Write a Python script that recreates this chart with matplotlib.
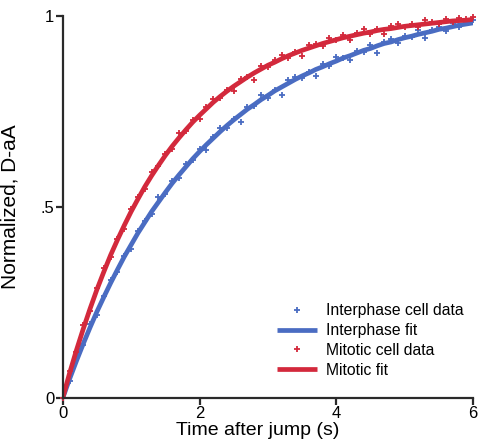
import matplotlib

matplotlib.use("Agg")
import matplotlib.pyplot as plt
import numpy as np

# sampling times (s)
time_s = [0.0, 0.1, 0.2, 0.3, 0.4, 0.5, 0.6, 0.7, 0.8, 0.9,
          1.0, 1.1, 1.2, 1.3, 1.4, 1.5, 1.6, 1.7, 1.8, 1.9,
          2.0, 2.1, 2.2, 2.3, 2.4, 2.5, 2.6, 2.7, 2.8, 2.9,
          3.0, 3.1, 3.2, 3.3, 3.4, 3.5, 3.6, 3.7, 3.8, 3.9,
          4.0, 4.1, 4.2, 4.3, 4.4, 4.5, 4.6, 4.7, 4.8, 4.9,
          5.0, 5.1, 5.2, 5.3, 5.4, 5.5, 5.6, 5.7, 5.8, 5.9, 6.0]

interphase_data = [0.000, 0.045, 0.104, 0.139, 0.195, 0.218, 0.268, 0.310, 0.330, 0.372,
                   0.390, 0.438, 0.463, 0.481, 0.525, 0.534, 0.567, 0.575, 0.613, 0.624,
                   0.651, 0.650, 0.684, 0.707, 0.707, 0.731, 0.722, 0.763, 0.764, 0.792,
                   0.784, 0.806, 0.792, 0.833, 0.839, 0.837, 0.854, 0.843, 0.875, 0.870,
                   0.892, 0.891, 0.884, 0.909, 0.907, 0.924, 0.903, 0.932, 0.939, 0.930,
                   0.948, 0.945, 0.963, 0.942, 0.963, 0.971, 0.961, 0.981, 0.972, 0.984, 0.990]

interphase_fit = [0.000, 0.050, 0.097, 0.142, 0.185, 0.226, 0.264, 0.301, 0.336, 0.370,
                  0.401, 0.432, 0.460, 0.488, 0.513, 0.538, 0.562, 0.584, 0.605, 0.626,
                  0.645, 0.663, 0.680, 0.697, 0.713, 0.728, 0.742, 0.756, 0.768, 0.781,
                  0.792, 0.804, 0.814, 0.824, 0.834, 0.843, 0.851, 0.860, 0.867, 0.875,
                  0.882, 0.890, 0.896, 0.903, 0.910, 0.915, 0.922, 0.928, 0.932, 0.938,
                  0.943, 0.947, 0.952, 0.956, 0.960, 0.965, 0.968, 0.972, 0.976, 0.979, 0.982]

mitotic_data = [0.000, 0.071, 0.121, 0.190, 0.227, 0.287, 0.341, 0.369, 0.416, 0.443,
                0.495, 0.525, 0.547, 0.592, 0.606, 0.640, 0.651, 0.693, 0.700, 0.728,
                0.730, 0.761, 0.782, 0.784, 0.806, 0.804, 0.835, 0.841, 0.833, 0.870,
                0.867, 0.885, 0.899, 0.889, 0.905, 0.895, 0.924, 0.926, 0.922, 0.943,
                0.936, 0.950, 0.938, 0.956, 0.967, 0.954, 0.965, 0.954, 0.973, 0.979,
                0.970, 0.979, 0.970, 0.989, 0.983, 0.978, 0.993, 0.985, 0.994, 0.993, 0.998]

mitotic_fit = [0.000, 0.065, 0.125, 0.181, 0.234, 0.284, 0.330, 0.374, 0.414, 0.452,
               0.488, 0.521, 0.553, 0.582, 0.609, 0.635, 0.659, 0.681, 0.702, 0.722,
               0.740, 0.757, 0.774, 0.789, 0.803, 0.816, 0.828, 0.840, 0.851, 0.861,
               0.871, 0.879, 0.888, 0.896, 0.903, 0.910, 0.916, 0.922, 0.928, 0.933,
               0.938, 0.943, 0.947, 0.951, 0.955, 0.958, 0.962, 0.965, 0.967, 0.970,
               0.973, 0.975, 0.977, 0.979, 0.981, 0.983, 0.985, 0.987, 0.988, 0.989, 0.991]

x_ticks = [0, 2, 4, 6]
y_ticks = [0, 0.5, 1]
y_tick_labels = ["0", ".5", "1"]

blue = "#4a6cc2"
red = "#d3293c"
axis_color = "#2a2a2a"

plt.rcParams["font.family"] = ["Liberation Sans", "DejaVu Sans"]

fig = plt.figure(figsize=(4.79, 4.44), dpi=100)
ax = fig.add_axes([0.131, 0.1036, 0.8566, 0.8604])

ax.plot(time_s, interphase_data, linestyle="none", marker="+", markersize=5,
        markeredgewidth=1.3, color=blue, clip_on=False, label="Interphase cell data")
ax.plot(time_s, interphase_fit, linewidth=3.4, color=blue, solid_capstyle="butt",
        label="Interphase fit")
ax.plot(time_s, mitotic_data, linestyle="none", marker="+", markersize=5,
        markeredgewidth=1.3, color=red, clip_on=False, label="Mitotic cell data")
ax.plot(time_s, mitotic_fit, linewidth=3.4, color=red, solid_capstyle="butt",
        label="Mitotic fit")

ax.set_xlim(0, 6)
ax.set_ylim(0, 1)
ax.set_xticks(x_ticks)
ax.set_yticks(y_ticks)
ax.set_yticklabels(y_tick_labels)
ax.set_xlabel("Time after jump (s)", fontsize=14)
ax.set_ylabel("Normalized, D-aA", fontsize=15)
ax.xaxis.set_label_coords(0.474, -0.064)
ax.yaxis.set_label_coords(-0.105, 0.5)

for side in ["top", "right"]:
    ax.spines[side].set_visible(False)
for side in ["left", "bottom"]:
    ax.spines[side].set_linewidth(1.6)
    ax.spines[side].set_color(axis_color)
ax.tick_params(direction="out", length=5, width=1.6, color=axis_color,
               labelsize=12, pad=1)

leg = ax.legend(loc="upper left", bbox_to_anchor=(0.522, 0.248), frameon=False,
                fontsize=11.3, handlelength=2.55, handletextpad=0.55,
                labelspacing=0.31, borderpad=0, borderaxespad=0, numpoints=1)

fig.savefig("out.png", dpi=100)
plt.close(fig)
